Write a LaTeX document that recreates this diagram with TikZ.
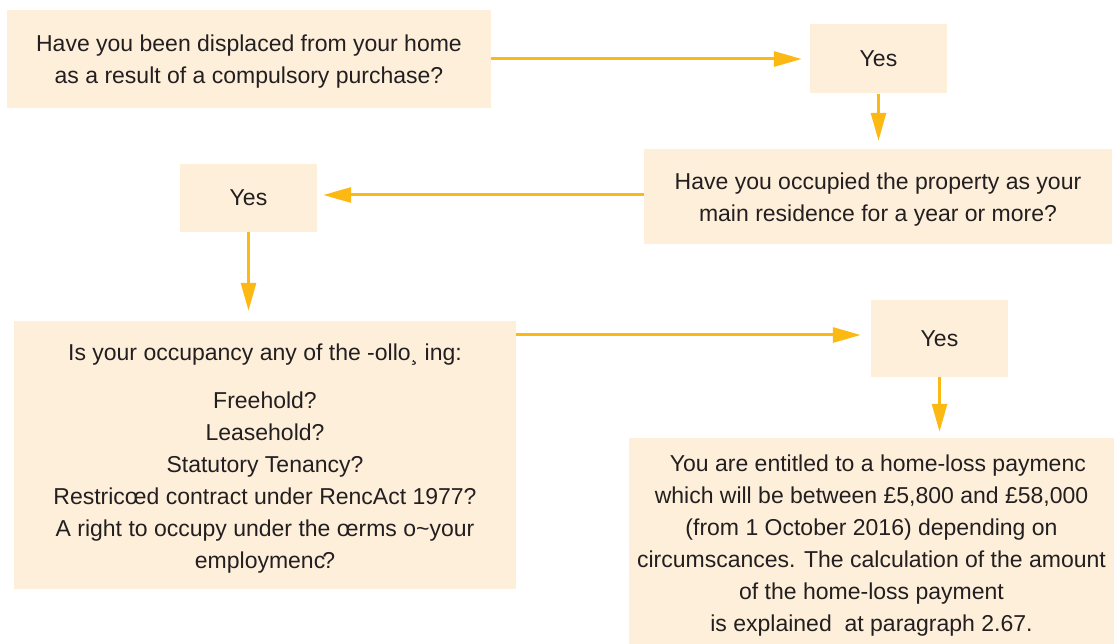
\documentclass[tikz,border=0pt]{standalone}
\usepackage{fontspec}
\setmainfont{Liberation Sans}
\usetikzlibrary{arrows.meta}
\definecolor{boxfill}{HTML}{FEEFDA}
\definecolor{arrowc}{HTML}{FDB913}
\definecolor{txt}{HTML}{231F20}
\newcommand{\lowr}[1]{\rule{0pt}{#1}}
\begin{document}
\begin{tikzpicture}[x=1pt,y=-1pt,
  box/.style={fill=boxfill, draw=none, inner sep=0pt, align=center, text=txt,
    font=\fontsize{23}{32}\selectfont},
  flow/.style={draw=arrowc, line width=3pt, -{Triangle[length=28pt,width=15pt]}}]
\useasboundingbox (0,0) rectangle (1114,644);
\node[box, minimum width=484pt, minimum height=98pt] (b1) at (249,59)
  {\lowr{22pt}Have you been displaced from your home\\as a result of a compulsory purchase?};
\node[box, minimum width=137pt, minimum height=69pt] (y1) at (878.5,59) {Yes};
\node[box, minimum width=468pt, minimum height=95pt] (b2) at (878,196.5)
  {\lowr{23pt}Have you occupied the property as your\\main residence for a year or more?};
\node[box, minimum width=137pt, minimum height=68pt] (y2) at (248.5,198) {Yes};
\node[box, minimum width=502pt, minimum height=268pt] (b3) at (265,455)
  {\lowr{24pt}Is your occupancy any of the -ollo¸ ing:\\[16pt]
   Freehold?\\Leasehold?\\Statutory Tenancy?\\Restricœd contract under RencAct 1977?\\
   A right to occupy under the œrms o\textasciitilde your\\employmenc\kern-3pt?};
\node[box, minimum width=137pt, minimum height=77pt] (y3) at (939.5,338.5) {Yes};
\node[box, minimum width=485pt, minimum height=206pt] (b4) at (871.5,541)
  {\lowr{26pt}\ \ You are entitled to a home-loss paymenc\\
   which will be between £5,800 and £58,000\\
   (from 1 October 2016) depending on\\
   circumscances. The calculation of the amount\\
   of the home-loss payment\\
   is explained \ at paragraph 2.67.};
\draw[flow, shorten >=8pt] (b1.east) -- (y1.west);
\draw[flow, shorten >=8pt] (y1.south) -- (b2.north -| y1.south);
\draw[flow, shorten >=6pt] ([yshift=1.5pt]b2.west) -- ([yshift=1.5pt]b2.west -| y2.east);
\draw[flow, shorten >=10pt] (y2.south) -- (y2.south |- b3.north);
\draw[flow, shorten >=10pt] ([yshift=3.5pt]y3.west -| b3.east) -- ([yshift=3.5pt]y3.west);
\draw[flow, shorten >=6pt] (y3.south) -- (y3.south |- b4.north);
\end{tikzpicture}
\end{document}
